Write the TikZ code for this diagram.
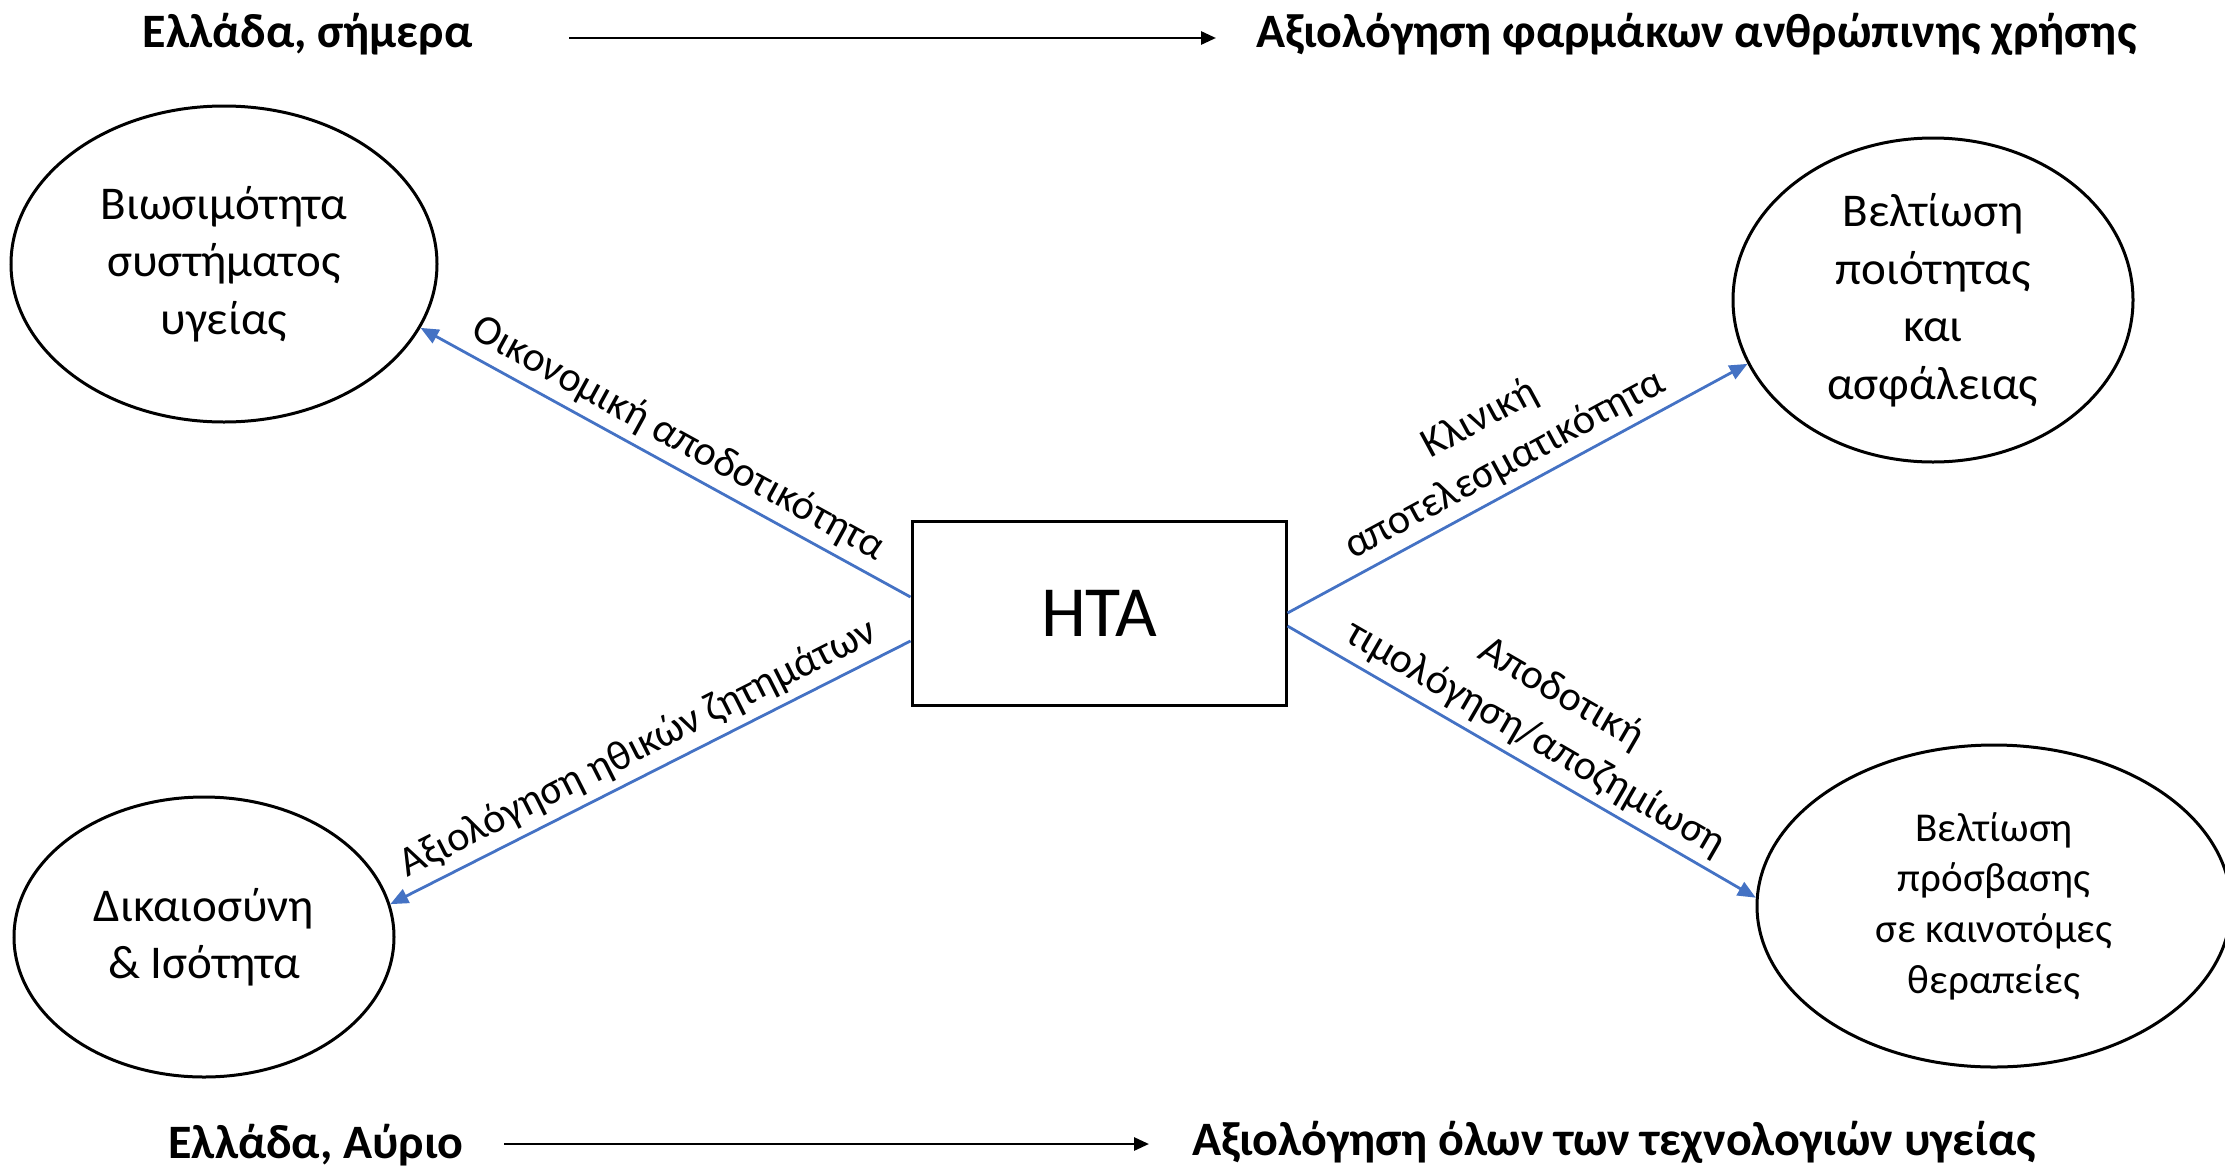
\documentclass[tikz,border=0pt]{standalone}
\usepackage{fontspec}
\setmainfont{Carlito}
\usetikzlibrary{shapes.geometric,arrows.meta,calc}
\definecolor{connblue}{HTML}{4472C4}
\begin{document}
\begin{tikzpicture}[x=1pt,y=-1pt,
  bubble/.style={ellipse, draw, line width=3pt, inner sep=0pt, align=center, font=\fontsize{47}{57.5}\selectfont},
  htabox/.style={draw, line width=3pt, inner sep=0pt, font=\fontsize{72}{86}\selectfont},
  conn/.style={draw=connblue, line width=2.8pt, -{Triangle[length=18pt,width=15pt]}},
  lbl/.style={font=\fontsize{42}{52}\selectfont, align=center, sloped, above=4pt},
  titletext/.style={font=\bfseries\fontsize{48}{58}\selectfont, inner sep=0pt},
  titlearrow/.style={line width=2.8pt, -{Triangle[length=15pt,width=13pt]}}
]
\useasboundingbox (0,0) rectangle (2225,1168);

% titles
\node[titletext, anchor=base east] (today) at (473,47) {Ελλάδα, σήμερα};
\node[titletext, anchor=base west] (drugs) at (1256,47) {Αξιολόγηση φαρμάκων ανθρώπινης χρήσης};
\node[titletext, anchor=base east] (tomorrow) at (464,1158) {Ελλάδα, Αύριο};
\node[titletext, anchor=base west] (alltech) at (1192,1155) {Αξιολόγηση όλων των τεχνολογιών υγείας};
\draw[titlearrow] ($(today.base east)+(96,-9)$) -- ($(drugs.base west)+(-40,-9)$);
\draw[titlearrow] ($(tomorrow.base east)+(40,-14)$) -- ($(alltech.base west)+(-43,-11)$);

% centre
\node[htabox, minimum width=374pt, minimum height=184pt] (hta) at (1099,613) {HTA};

% bubbles
\node[bubble, minimum width=426pt, minimum height=316pt] (tl) at (224,264) {Βιωσιμότητα\\συστήματος\\υγείας};
\node[bubble, minimum width=400pt, minimum height=324pt] (tr) at (1933,300) {Βελτίωση\\ποιότητας\\και\\ασφάλειας};
\node[bubble, minimum width=380pt, minimum height=280pt] (bl) at (204,937) {Δικαιοσύνη\\\& Ισότητα};
\node[bubble, minimum width=474pt, minimum height=322pt, font=\fontsize{41}{50.6}\selectfont] (br) at (1994,906) {Βελτίωση\\πρόσβασης\\σε καινοτόμες\\θεραπείες};

% connectors
\draw[conn] ($(hta.west)+(0,-16)$) -- node[lbl]{Οικονομική αποδοτικότητα} (tl.-18);
\draw[conn] ($(hta.west)+(0,28)$) -- node[lbl]{Αξιολόγηση ηθικών ζητημάτων} (bl.10);
\draw[conn] (hta.east) -- node[lbl]{Κλινική\\αποτελεσματικότητα} (tr.199);
\draw[conn] ($(hta.east)+(0,13)$) -- node[lbl]{Αποδοτική\\τιμολόγηση/αποζημίωση} (br.178);
\end{tikzpicture}
\end{document}
